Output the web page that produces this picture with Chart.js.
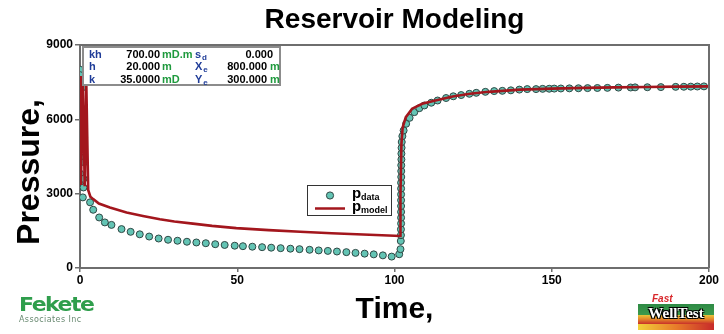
<!DOCTYPE html>
<html>
<head>
<meta charset="utf-8">
<script src="https://cdn.jsdelivr.net/npm/chart.js@4/dist/chart.umd.min.js"></script>
<style>
  html, body { margin: 0; padding: 0; background: #fff; }
  #wrap { position: relative; width: 724px; height: 334px; }
  #c { position: absolute; left: 0; top: 0; }
  .fekete { position: absolute; left: 19px; top: 292px; color: #2f9e4c; font-family: "DejaVu Sans", sans-serif; }
  .fekete .name { font-size: 22px; letter-spacing: -1.5px; font-weight: bold; transform: scaleY(0.9); }
  .fekete .sub { font-size: 8px; color: #6a8a72; margin-top: -2px; letter-spacing: 0.4px; }
  .wt { position: absolute; left: 638px; top: 293px; width: 76px; }
  .wt .fast { color: #d8262a; font: italic bold 10px Arial, "Liberation Sans", sans-serif; margin-left: 14px; }
  .wt .bar { height: 20px; text-align: center; color: #fff;
    font: bold 15px "Liberation Serif", "DejaVu Serif", serif; line-height: 19px;
    background: linear-gradient(to bottom, #2e8a45 0%, #3c9a4c 55%, #e8c53a 55%, #e58a2a 75%, #c9302a 100%);
    text-shadow: 1px 1px 0 #000, -1px -1px 0 #000, 1px -1px 0 #000, -1px 1px 0 #000; }
  .wt .base { height: 6px; background: linear-gradient(to right, #f2d23a, #e87c2a, #c72a2a); }
</style>
</head>
<body>
<div id="wrap">
  <canvas id="c" width="724" height="334"></canvas>
  <div class="fekete"><div class="name">Fekete</div><div class="sub">Associates Inc</div></div>
  <div class="wt"><div class="fast">Fast</div><div class="bar">WellTest</div><div class="base"></div></div>
</div>
<script>
// measured data (time, pressure)
const dataTime = [
  0.05, 0.1, 1.0, 0.1, 0.9, 0.1, 1.3, 0.1, 1.3, 0.1, 1.1, 0.25, 1.1, 0.9,
  3.2, 4.2, 6.1, 7.9, 10, 13.2, 16.1, 19, 22, 25, 28, 31, 34, 37, 40, 43, 46,
  49.2, 51.8, 54.8, 57.9, 60.8, 63.8, 66.9, 69.8, 73, 75.9, 78.8, 81.7, 84.7, 87.6, 90.5, 93.4, 96.3, 99.1,
  101.5, 101.9, 102.0, 102.05, 102.05, 102.1, 102.1, 102.1, 102.1, 102.1, 102.1, 102.1, 102.1, 102.15, 102.15,
  102.15, 102.2, 102.2, 102.25, 102.3, 102.5, 102.9,
  103.7, 104.8, 106.3, 107.9, 109.5, 111.7, 113.7, 116.4, 118.7, 121.2, 123.8, 126, 128.9, 131.7, 134.3, 137,
  139.7, 142.2, 145, 147.1, 149.2, 150.8, 152.9, 155.6, 158.5, 161.4, 164.5, 167.7, 171.2, 175.1, 176.5, 180.4,
  184.7, 189.4, 192, 194.2, 196.3, 198.4
];
const dataPressure = [
  8000, 7780, 7300, 6560, 6290, 5550, 5280, 4470, 4270, 3800, 3600, 3320, 3250, 2850,
  2650, 2350, 2040, 1840, 1740, 1570, 1460, 1360, 1270, 1190, 1140, 1100, 1060, 1030, 1000, 960, 930,
  900, 880, 860, 840, 820, 800, 780, 760, 735, 710, 690, 665, 640, 610, 580, 550, 510, 460,
  555, 760, 1090, 1325, 1560, 1795, 2030, 2265, 2500, 2735, 2970, 3205, 3440, 3675, 3910,
  4145, 4380, 4615, 4850, 5085, 5320, 5550,
  5820, 6060, 6290, 6450, 6560, 6670, 6760, 6860, 6930, 6980, 7030, 7070, 7110, 7140, 7150, 7170,
  7200, 7220, 7220, 7230, 7235, 7240, 7245, 7250, 7255, 7260, 7265, 7270, 7280, 7285, 7290, 7295,
  7300, 7310, 7315, 7320, 7325, 7330
];
// model curve (time, pressure)
const modelTime = [
  0, 0.3, 0.9, 1.5, 2.0, 2.6, 3.3, 4.2, 6, 9.5, 14.8, 20, 25.4, 30, 35.9, 42, 49.7, 60, 70, 80, 90, 100,
  101.8, 101.9, 102.2, 102.6, 103.6, 105.6, 108.8, 113, 118.5, 124, 130, 140, 150, 160, 170, 180, 190, 200
];
const modelPressure = [
  7750, 3350, 7650, 3300, 7500, 3150, 2880, 2780, 2600, 2440, 2240, 2100, 1970, 1880, 1790, 1700, 1610, 1530, 1460, 1400, 1350, 1300,
  1290, 3000, 5000, 5680, 6090, 6430, 6630, 6760, 6920, 7030, 7110, 7200, 7240, 7270, 7290, 7305, 7320, 7330
];
const xTicks = [0, 50, 100, 150, 200];
const yTicks = [0, 3000, 6000, 9000];

// parameter table
const paramRows = [
  { a: 'kh', av: '700.00', au: 'mD.m', b: 's', bs: 'd', bv: '0.000', bu: '' },
  { a: 'h', av: '20.000', au: 'm', b: 'X', bs: 'e', bv: '800.000', bu: 'm' },
  { a: 'k', av: '35.0000', au: 'mD', b: 'Y', bs: 'e', bv: '300.000', bu: 'm' }
];

const FONT = 'Arial, "Liberation Sans", sans-serif';
const axisColor = '#6e6e6e';
const teal = '#63c4b4';
const red = '#a3161d';

const decor = {
  id: 'decor',
  afterDatasetsDraw(chart) {
    const { ctx, chartArea: a } = chart;
    ctx.save();
    // frame top and right
    ctx.strokeStyle = axisColor;
    ctx.lineWidth = 2;
    ctx.beginPath();
    ctx.moveTo(a.left, a.top);
    ctx.lineTo(a.right, a.top);
    ctx.lineTo(a.right, a.bottom);
    ctx.stroke();

    // parameter box
    const bx = a.left + 3, by = a.top + 2, bw = 197, bh = 38;
    ctx.fillStyle = '#fff';
    ctx.fillRect(bx, by, bw, bh);
    ctx.strokeStyle = '#8c8c8c';
    ctx.lineWidth = 2;
    ctx.strokeRect(bx, by, bw, bh);
    ctx.textBaseline = 'middle';
    paramRows.forEach((r, i) => {
      const y = by + 7.5 + i * 12.6;
      ctx.font = 'bold 11px ' + FONT;
      ctx.textAlign = 'left';
      ctx.fillStyle = '#1f3c98';
      ctx.fillText(r.a, bx + 6, y);
      ctx.fillText(r.b, bx + 112, y);
      const bw0 = ctx.measureText(r.b).width;
      ctx.font = 'bold 8px ' + FONT;
      ctx.fillText(r.bs, bx + 112 + bw0 + 1, y + 3);
      ctx.font = 'bold 11px ' + FONT;
      ctx.fillStyle = '#000';
      ctx.textAlign = 'right';
      ctx.fillText(r.av, bx + 77, y);
      ctx.fillText(r.bv, bx + (r.bu ? 184 : 190), y);
      ctx.textAlign = 'left';
      ctx.fillStyle = '#1f9a3e';
      ctx.fillText(r.au, bx + 79, y);
      if (r.bu) ctx.fillText(r.bu, bx + 187, y);
    });

    // legend
    const lx = 307, ly = 185;
    ctx.fillStyle = '#fff';
    ctx.fillRect(lx, ly, 84, 30);
    ctx.strokeStyle = '#333';
    ctx.lineWidth = 1;
    ctx.strokeRect(lx + 0.5, ly + 0.5, 84, 30);
    ctx.beginPath();
    ctx.arc(lx + 23, ly + 10.5, 3.6, 0, Math.PI * 2);
    ctx.fillStyle = teal;
    ctx.fill();
    ctx.strokeStyle = '#2f4744';
    ctx.stroke();
    ctx.strokeStyle = red;
    ctx.lineWidth = 2.5;
    ctx.beginPath();
    ctx.moveTo(lx + 8, ly + 23.5);
    ctx.lineTo(lx + 38, ly + 23.5);
    ctx.stroke();
    ctx.fillStyle = '#000';
    ctx.textAlign = 'left';
    ctx.textBaseline = 'alphabetic';
    ctx.font = 'bold 15px ' + FONT;
    ctx.fillText('p', lx + 45, ly + 13);
    ctx.fillText('p', lx + 45, ly + 26);
    ctx.font = 'bold 9px ' + FONT;
    ctx.fillText('data', lx + 54, ly + 15);
    ctx.fillText('model', lx + 54, ly + 28);

    // y axis title
    ctx.translate(30, 172);
    ctx.rotate(-Math.PI / 2);
    ctx.font = 'bold 32px ' + FONT;
    ctx.textAlign = 'center';
    ctx.textBaseline = 'middle';
    ctx.fillStyle = '#000';
    ctx.fillText('Pressure,', 0, 0);
    ctx.restore();
  }
};

document.addEventListener('DOMContentLoaded', function() {
  const dataPts = dataTime.map((t, i) => ({ x: t, y: dataPressure[i] }));
  const modelPts = modelTime.map((t, i) => ({ x: t, y: modelPressure[i] }));

  new Chart(document.getElementById('c').getContext('2d'), {
    type: 'scatter',
    data: {
      datasets: [{
        label: 'pmodel',
        data: modelPts,
        showLine: true,
        borderColor: red,
        borderWidth: 2.6,
        pointRadius: 0,
        tension: 0,
        order: 0
      }, {
        label: 'pdata',
        data: dataPts,
        pointRadius: 3.5,
        pointBackgroundColor: teal,
        pointBorderColor: '#2f4744',
        pointBorderWidth: 1,
        order: 1
      }]
    },
    options: {
      responsive: false,
      animation: false,
      layout: { padding: { left: 0, right: 15, top: 0, bottom: 0 } },
      plugins: {
        legend: { display: false },
        tooltip: { enabled: false },
        title: {
          display: true,
          text: 'Reservoir Modeling',
          fullSize: false,
          color: '#000',
          font: { family: FONT, size: 28, weight: 'bold' },
          padding: { top: 3, bottom: 8.4 }
        }
      },
      scales: {
        x: {
          type: 'linear',
          min: 0, max: 200,
          afterBuildTicks: s => { s.ticks = xTicks.map(v => ({ value: v })); },
          afterFit: s => { s.height = 66; },
          ticks: { color: '#000', font: { family: FONT, size: 12, weight: 'bold' }, padding: 1, maxRotation: 0,
                   callback: v => String(v) },
          grid: { drawOnChartArea: false, drawTicks: true, tickLength: 4, color: axisColor, lineWidth: 1.5 },
          border: { color: axisColor, width: 2 },
          title: {
            display: true, text: 'Time,', color: '#000',
            font: { family: FONT, size: 30, weight: 'bold' },
            padding: { top: 0, bottom: 6 }
          }
        },
        y: {
          min: 0, max: 9000,
          afterBuildTicks: s => { s.ticks = yTicks.map(v => ({ value: v })); },
          afterFit: s => { s.width = 80; },
          ticks: { color: '#000', font: { family: FONT, size: 12, weight: 'bold' }, padding: 2,
                   callback: v => String(v) },
          grid: { drawOnChartArea: false, drawTicks: true, tickLength: 5, color: axisColor, lineWidth: 1.5 },
          border: { color: axisColor, width: 2 }
        }
      }
    },
    plugins: [decor]
  });
});
</script>
</body>
</html>
